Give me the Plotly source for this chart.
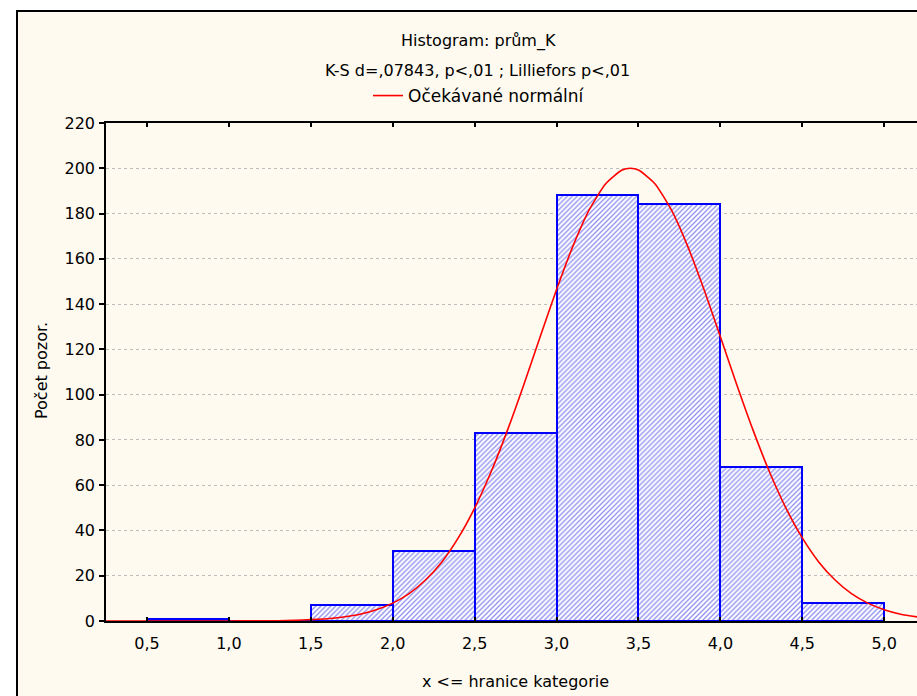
import plotly.graph_objects as go

# ---- data ----
bin_lower = [0.5, 1.0, 1.5, 2.0, 2.5, 3.0, 3.5, 4.0, 4.5]
bin_upper = [1.0, 1.5, 2.0, 2.5, 3.0, 3.5, 4.0, 4.5, 5.0]
counts = [1, 0, 7, 31, 83, 188, 184, 68, 8]

curve_x = [0.25, 1.0, 1.2, 1.3, 1.4, 1.5, 1.6, 1.7, 1.8, 1.9, 2.0, 2.1, 2.2, 2.3, 2.4,
           2.5, 2.6, 2.7, 2.8, 2.9, 3.0, 3.1, 3.2, 3.3, 3.4, 3.45, 3.5, 3.6, 3.7, 3.8,
           3.9, 4.0, 4.1, 4.2, 4.3, 4.4, 4.5, 4.6, 4.7, 4.8, 4.9, 5.0, 5.1, 5.2]
curve_y = [0.0, 0.0, 0.1, 0.1, 0.3, 0.6, 1.0, 1.8, 3.0, 5.0, 7.9, 12.1, 18.1, 26.1, 36.7,
           49.9, 65.8, 84.2, 104.4, 125.6, 146.4, 165.6, 181.7, 193.2, 199.2, 200.0, 199.2,
           193.2, 181.7, 165.6, 146.4, 125.6, 104.4, 84.2, 65.8, 49.9, 36.7, 26.1, 18.1,
           12.1, 7.9, 5.0, 3.0, 1.8]

x_tickvals = [0.5, 1.0, 1.5, 2.0, 2.5, 3.0, 3.5, 4.0, 4.5, 5.0]
x_ticktext = ["0,5", "1,0", "1,5", "2,0", "2,5", "3,0", "3,5", "4,0", "4,5", "5,0"]
y_tickvals = [0, 20, 40, 60, 80, 100, 120, 140, 160, 180, 200, 220]

title_line1 = "Histogram: prům_K"
title_line2 = "K-S d=,07843, p<,01 ; Lilliefors p<,01"
legend_name = "Očekávané normální"
x_title = "x <= hranice kategorie"
y_title = "Počet pozor."

FONT = "DejaVu Sans"
CREAM = "#FEFAEF"

centers = [(a + b) / 2 for a, b in zip(bin_lower, bin_upper)]
widths = [b - a for a, b in zip(bin_lower, bin_upper)]

fig = go.Figure()
fig.add_trace(go.Bar(
    x=centers, y=counts, width=widths,
    marker=dict(color="white",
                line=dict(color="#0000FF", width=2),
                pattern=dict(shape="/", fgcolor="#2020E0", bgcolor="white",
                             size=3.5, solidity=0.38)),
    showlegend=False, hoverinfo="x+y",
))
fig.add_trace(go.Scatter(
    x=curve_x, y=curve_y, mode="lines", name=legend_name,
    line=dict(color="#FF0000", width=1.6, shape="spline", smoothing=0.6),
    showlegend=True,
))

L, T, B = 106, 123, 75
W, H = 917, 696
PW = W - L
PH = H - T - B


def px(xp):
    return (xp - L) / PW


def py(yp):
    return (H - B - yp) / PH


fig.update_layout(
    width=W, height=H,
    margin=dict(l=L, r=0, t=T, b=B, pad=0),
    paper_bgcolor="white",
    plot_bgcolor="white",
    font=dict(family=FONT, size=16, color="black"),
    bargap=0,
    showlegend=True,
    legend=dict(x=px(368), y=py(96), xanchor="left", yanchor="middle",
                orientation="h", bgcolor="rgba(0,0,0,0)", borderwidth=0,
                font=dict(family=FONT, size=17, color="black"),
                itemwidth=30),
    xaxis=dict(range=[0.25, 5.2], tickvals=x_tickvals, ticktext=x_ticktext,
               ticks="inside", ticklen=4, tickwidth=1.5, tickcolor="black",
               showline=True, linecolor="black", linewidth=2, mirror="ticks",
               showgrid=False, zeroline=False, ticklabelstandoff=7,
               tickfont=dict(family=FONT, size=16)),
    yaxis=dict(range=[0, 220], tickvals=y_tickvals,
               ticks="outside", ticklen=5, tickwidth=1.5, tickcolor="black",
               showline=True, linecolor="black", linewidth=1.5, mirror=False,
               showgrid=True, gridcolor="#BDBDBD", griddash="dot", gridwidth=1,
               zeroline=False, ticklabelstandoff=1,
               tickfont=dict(family=FONT, size=16)),
    shapes=[dict(type="rect", xref="paper", yref="paper",
                 x0=px(17), x1=px(940), y0=py(720), y1=py(11),
                 line=dict(color="black", width=2), fillcolor=CREAM,
                 layer="below")],
    annotations=[
        dict(text=title_line1, xref="paper", yref="paper", x=px(478), y=py(41),
             showarrow=False, xanchor="center", yanchor="middle",
             font=dict(family=FONT, size=16)),
        dict(text=title_line2, xref="paper", yref="paper", x=px(477), y=py(70),
             showarrow=False, xanchor="center", yanchor="middle",
             font=dict(family=FONT, size=16)),
        dict(text=x_title, xref="paper", yref="paper", x=px(515), y=py(681),
             showarrow=False, xanchor="center", yanchor="middle",
             font=dict(family=FONT, size=16)),
        dict(text=y_title, xref="paper", yref="paper", x=px(41), y=py(371),
             showarrow=False, xanchor="center", yanchor="middle", textangle=-90,
             font=dict(family=FONT, size=16)),
    ],
)

fig.write_html("out.html")
